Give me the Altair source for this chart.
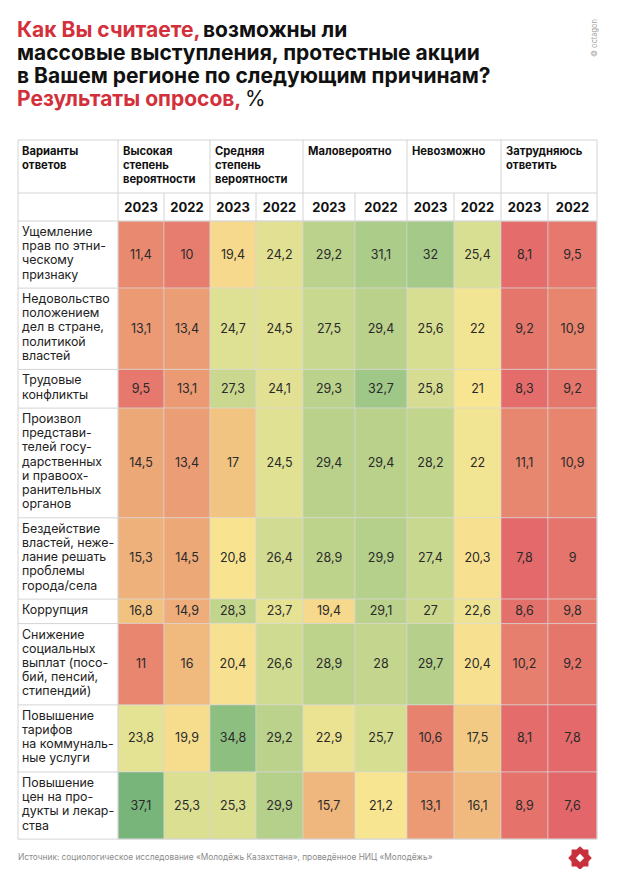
import altair as alt
import pandas as pd

# ---------------- data ----------------
TITLE_RED_1 = "Как Вы считаете,"
TITLE_BLACK_1 = "возможны ли"
TITLE_LINE_2 = "массовые выступления, протестные акции"
TITLE_LINE_3 = "в Вашем регионе по следующим причинам?"
TITLE_RED_4 = "Результаты опросов,"
TITLE_BLACK_4 = "%"
CORNER = "Варианты\nответов"
GROUPS = ["Высокая\nстепень\nвероятности", "Средняя\nстепень\nвероятности",
          "Маловероятно", "Невозможно", "Затрудняюсь\nответить"]
YEARS = ["2023", "2022"]
REASONS = [
    ["Ущемление", "прав по этни-", "ческому", "признаку"],
    ["Недовольство", "положением", "дел в стране,", "политикой", "властей"],
    ["Трудовые", "конфликты"],
    ["Произвол", "представи-", "телей госу-", "дарственных", "и правоох-", "ранительных", "органов"],
    ["Бездействие", "властей, неже-", "лание решать", "проблемы", "города/села"],
    ["Коррупция"],
    ["Снижение", "социальных", "выплат (посо-", "бий, пенсий,", "стипендий)"],
    ["Повышение", "тарифов", "на коммуналь-", "ные услуги"],
    ["Повышение", "цен на про-", "дукты и лекар-", "ства"],
]
VALUES = [
    [11.4, 10, 19.4, 24.2, 29.2, 31.1, 32, 25.4, 8.1, 9.5],
    [13.1, 13.4, 24.7, 24.5, 27.5, 29.4, 25.6, 22, 9.2, 10.9],
    [9.5, 13.1, 27.3, 24.1, 29.3, 32.7, 25.8, 21, 8.3, 9.2],
    [14.5, 13.4, 17, 24.5, 29.4, 29.4, 28.2, 22, 11.1, 10.9],
    [15.3, 14.5, 20.8, 26.4, 28.9, 29.9, 27.4, 20.3, 7.8, 9],
    [16.8, 14.9, 28.3, 23.7, 19.4, 29.1, 27, 22.6, 8.6, 9.8],
    [11, 16, 20.4, 26.6, 28.9, 28, 29.7, 20.4, 10.2, 9.2],
    [23.8, 19.9, 34.8, 29.2, 22.9, 25.7, 10.6, 17.5, 8.1, 7.8],
    [37.1, 25.3, 25.3, 29.9, 15.7, 21.2, 13.1, 16.1, 8.9, 7.6],
]
SOURCE = "Источник: социологическое исследование «Молодёжь Казахстана», проведённое НИЦ «Молодёжь»"
CREDIT = "© octagon"

# ---------------- layout (page pixels) ----------------
FONT = "Inter"
RED = "#d3303b"
GRID = "#d4d4d4"
TABLE_LEFT, TABLE_RIGHT = 18, 597
COL_EDGES = [118, 164, 210, 256, 303, 355, 407, 454, 501, 548, 597]
HEADER_TOP, YEAR_TOP, BODY_TOP = 140, 193, 221
LINE_H, ROW_PAD = 14.2, 10.3
TITLE_SIZE = 21

row_tops, y = [], BODY_TOP
for lines in REASONS:
    row_tops.append(y)
    y += LINE_H * len(lines) + ROW_PAD
row_bottoms = row_tops[1:] + [y]
BODY_BOTTOM = y

xs = alt.Scale(domain=[8, 612], range=[0, 604], nice=False, zero=False)
ys = alt.Scale(domain=[8, 869], range=[0, 861], nice=False, zero=False)


def X(f):
    return alt.X(f, type="quantitative", scale=xs, axis=None)


def Y(f):
    return alt.Y(f, type="quantitative", scale=ys, axis=None)


# cells
cell_rows = []
for i, vals in enumerate(VALUES):
    for j, v in enumerate(vals):
        cell_rows.append(dict(
            x=COL_EDGES[j], x2=COL_EDGES[j + 1],
            y=row_tops[i], y2=row_bottoms[i],
            xc=(COL_EDGES[j] + COL_EDGES[j + 1]) / 2,
            yc=(row_tops[i] + row_bottoms[i]) / 2,
            value=v, label=f"{v:g}".replace(".", ","),
        ))
cells = pd.DataFrame(cell_rows)

color_scale = alt.Scale(
    domain=[7.6, 11, 14.5, 17.5, 21, 25, 29.5, 33, 37.1],
    range=["#e3676a", "#e8866f", "#eda878", "#f3ca84", "#f8e592",
           "#dce093", "#b8d18b", "#9dc687", "#78b57a"],
    interpolate="rgb",
)

rects = alt.Chart(cells).mark_rect(stroke="#d6d6d6", strokeWidth=0.6).encode(
    x=X("x"), x2="x2", y=Y("y"), y2="y2",
    color=alt.Color("value:Q", scale=color_scale, legend=None),
)
cell_text = alt.Chart(cells).mark_text(
    font=FONT, fontSize=12.5, color="#2a2a2a", baseline="middle", align="center"
).encode(x=X("xc"), y=Y("yc"), text="label:N")

# row labels
labels = pd.DataFrame(dict(
    x=[TABLE_LEFT + 4] * len(REASONS),
    y=[t + 5 for t in row_tops],
    text=["\n".join(r) for r in REASONS],
))
label_text = alt.Chart(labels).mark_text(
    font=FONT, fontSize=12.4, color="#222222", align="left", baseline="top",
    lineBreak="\n", lineHeight=LINE_H,
).encode(x=X("x"), y=Y("y"), text="text:N")

# header
group_left = [COL_EDGES[0], COL_EDGES[2], COL_EDGES[4], COL_EDGES[6], COL_EDGES[8]]
head = pd.DataFrame(dict(
    x=[TABLE_LEFT + 4] + [g + 5 for g in group_left],
    y=[HEADER_TOP + 6] * 6,
    text=[CORNER] + GROUPS,
))
head_text = alt.Chart(head).mark_text(
    font=FONT, fontSize=11.2, fontWeight="bold", color="#111111", align="left",
    baseline="top", lineBreak="\n", lineHeight=14,
).encode(x=X("x"), y=Y("y"), text="text:N")

years = pd.DataFrame(dict(
    x=[(COL_EDGES[j] + COL_EDGES[j + 1]) / 2 for j in range(10)],
    y=[(YEAR_TOP + BODY_TOP) / 2 + 1] * 10,
    text=[YEARS[j % 2] for j in range(10)],
))
year_text = alt.Chart(years).mark_text(
    font=FONT, fontSize=13, fontWeight="bold", color="#111111", align="center",
    baseline="middle",
).encode(x=X("x"), y=Y("y"), text="text:N")

# grid lines
seg = []
seg.append((TABLE_LEFT, TABLE_RIGHT, HEADER_TOP, HEADER_TOP))
seg.append((TABLE_LEFT, TABLE_RIGHT, YEAR_TOP, YEAR_TOP))
seg.append((TABLE_LEFT, TABLE_RIGHT, BODY_TOP, BODY_TOP))
seg.append((TABLE_LEFT, TABLE_RIGHT, BODY_BOTTOM, BODY_BOTTOM))
seg.append((TABLE_LEFT, TABLE_LEFT, HEADER_TOP, BODY_BOTTOM))
seg.append((TABLE_RIGHT, TABLE_RIGHT, HEADER_TOP, BODY_BOTTOM))
for g in group_left:
    seg.append((g, g, HEADER_TOP, BODY_TOP))
for j in range(1, 10, 2):
    seg.append((COL_EDGES[j], COL_EDGES[j], YEAR_TOP, BODY_TOP))
for b in row_bottoms[:-1]:
    seg.append((TABLE_LEFT, COL_EDGES[0], b, b))
seg.append((COL_EDGES[0], COL_EDGES[0], BODY_TOP, BODY_BOTTOM))
grid = pd.DataFrame(seg, columns=["x", "x2", "y", "y2"])
grid_rules = alt.Chart(grid).mark_rule(color=GRID, strokeWidth=1).encode(
    x=X("x"), x2="x2", y=Y("y"), y2="y2"
)

# title
title_bold = pd.DataFrame(dict(
    x=[17, 203, 17, 17, 17],
    y=[37, 37, 60, 83, 106],
    text=[TITLE_RED_1, TITLE_BLACK_1, TITLE_LINE_2, TITLE_LINE_3, TITLE_RED_4],
    color=[RED, "#111111", "#111111", "#111111", RED],
))
title_b = alt.Chart(title_bold).mark_text(
    font=FONT, fontSize=TITLE_SIZE, fontWeight="bold", align="left", baseline="alphabetic"
).encode(x=X("x"), y=Y("y"), text="text:N", color=alt.Color("color:N", scale=None))
title_r = alt.Chart(pd.DataFrame(dict(x=[245], y=[106], text=[TITLE_BLACK_4]))).mark_text(
    font=FONT, fontSize=TITLE_SIZE, fontWeight="normal", color="#111111", align="left",
    baseline="alphabetic",
).encode(x=X("x"), y=Y("y"), text="text:N")

credit = alt.Chart(pd.DataFrame(dict(x=[595], y=[38], text=[CREDIT]))).mark_text(
    font=FONT, fontSize=7.5, color="#a0a0a0", angle=270, align="center", baseline="middle"
).encode(x=X("x"), y=Y("y"), text="text:N")

source = alt.Chart(pd.DataFrame(dict(x=[18], y=[858], text=[SOURCE]))).mark_text(
    font=FONT, fontSize=8.3, color="#8a8a8a", align="left", baseline="middle"
).encode(x=X("x"), y=Y("y"), text="text:N")

STAR = ("M0,-1L0.3,-0.72L0.71,-0.71L0.72,-0.3L1,0L0.72,0.3L0.71,0.71L0.3,0.72"
        "L0,1L-0.3,0.72L-0.71,0.71L-0.72,0.3L-1,0L-0.72,-0.3L-0.71,-0.71L-0.3,-0.72Z")
DIAMOND = "M0,-1L1,0L0,1L-1,0Z"
logo_df = pd.DataFrame(dict(x=[580], y=[858]))
logo = alt.Chart(logo_df).mark_point(
    shape=STAR, filled=True, color="#c9303d", size=560, opacity=1
).encode(x=X("x"), y=Y("y"))
logo_in = alt.Chart(logo_df).mark_point(
    shape=DIAMOND, filled=True, color="#ffffff", size=70, opacity=1
).encode(x=X("x"), y=Y("y"))

chart = alt.layer(
    rects, cell_text, grid_rules, label_text, head_text, year_text,
    title_b, title_r, credit, source, logo, logo_in,
).properties(
    width=604, height=861, padding=0, autosize=alt.AutoSizeParams(type="none"),
    background="white",
).configure_view(stroke=None)

chart.save("out.html", embed_options={"renderer": "svg", "actions": False})
